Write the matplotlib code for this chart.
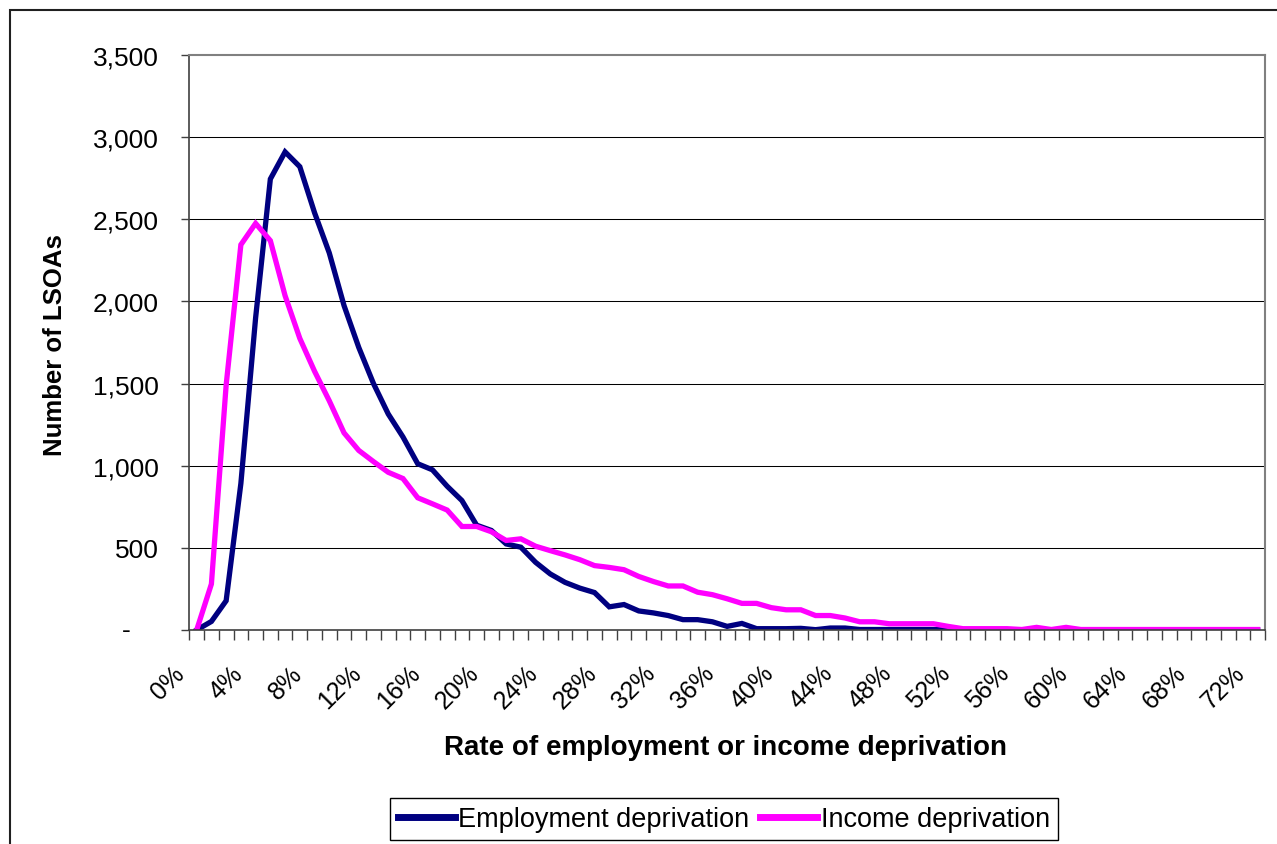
import numpy as np
import matplotlib
matplotlib.use("Agg")
from matplotlib import pyplot as plt, rcParams
from matplotlib.patches import Rectangle
from matplotlib.transforms import ScaledTranslation

rcParams["font.family"] = ["Liberation Sans", "DejaVu Sans"]

# Rate category (%), one point per 1% band
rate_pct = list(range(0, 73))

# Number of LSOAs in each band
employment = [
    0, 52, 178, 892, 1900, 2745, 2910, 2820, 2540, 2295,
    1975, 1720, 1500, 1315, 1175, 1012, 975, 875, 788, 638,
    606, 524, 504, 412, 341, 290, 255, 228, 141, 155,
    116, 104, 88, 63, 63, 50, 22, 40, 8, 8,
    8, 10, 2, 12, 12, 3, 3, 3, 3, 3,
    3, 0, 0, 0, 0, 0, 0, 0, 0, 0,
    0, 0, 0, 0, 0, 0, 0, 0, 0, 0,
    0, 0, 0,
]
income = [
    0, 280, 1490, 2345, 2475, 2370, 2035, 1775, 1575, 1395,
    1200, 1093, 1025, 960, 922, 805, 768, 730, 630, 630,
    598, 545, 555, 510, 483, 457, 428, 392, 381, 367,
    326, 295, 268, 268, 230, 215, 190, 162, 162, 136,
    123, 123, 88, 88, 73, 50, 50, 38, 38, 38,
    38, 22, 8, 8, 8, 8, 3, 16, 3, 16,
    3, 3, 3, 3, 3, 3, 3, 3, 3, 3,
    3, 3, 3,
]
y_ticks = [0, 500, 1000, 1500, 2000, 2500, 3000, 3500]
y_ticklabels = ["", "500", "1,000", "1,500", "2,000", "2,500", "3,000", "3,500"]

W, H = 1277, 845
fig = plt.figure(figsize=(W / 100, H / 100), dpi=100)
ax = fig.add_axes([189.3 / W, 1 - 631 / H, (1265 - 189.3) / W, (631 - 56) / H])

x = np.arange(len(rate_pct))
ax.plot(x, employment, c="#000080", lw=3.8, solid_joinstyle="miter",
        label="Employment deprivation")
ax.plot(x, income, c="#FF00FF", lw=3.8, solid_joinstyle="miter",
        label="Income deprivation")

ax.set_xlim(-0.5, len(rate_pct) - 0.5)
ax.set_ylim(0, 3500)

# gridlines
for v in y_ticks[1:-1]:
    ax.axhline(v, c="black", lw=0.75, zorder=0)

for s in ["top", "right"]:
    ax.spines[s].set_color("#808080")
    ax.spines[s].set_linewidth(1.5)
ax.spines["left"].set_color("#404040")
ax.spines["bottom"].set_color("#404040")
ax.spines["left"].set_linewidth(1.2)
ax.spines["bottom"].set_linewidth(1.2)

ax.set_yticks(y_ticks, y_ticklabels, fontsize=19)
ax.tick_params(axis="y", length=6, width=1, color="#404040", pad=16)
ax.text(-0.0542, 0, "-", transform=ax.get_yaxis_transform(), ha="right",
        va="center", fontsize=19)

# category boundaries as minor ticks, labels every 4%
ax.set_xticks(np.arange(-0.5, len(rate_pct)), minor=True)
lab_pos = [k for k in rate_pct if k % 4 == 0]
ax.set_xticks(lab_pos, [f"{k}%" for k in lab_pos], rotation=45,
              ha="right", va="top", fontsize=18)
ax.tick_params(axis="x", which="minor", length=7, width=1, color="#404040")
ax.tick_params(axis="x", which="major", length=0, pad=22)
for lab in ax.get_xticklabels():
    lab.set_transform(lab.get_transform()
                      + ScaledTranslation(-0.08, 0, fig.dpi_scale_trans))

fig.text(725.5 / W, 1 - 748 / H, "Rate of employment or income deprivation",
         ha="center", va="center", fontsize=20, fontweight="bold")
fig.text(55 / W, 1 - 345 / H, "Number of LSOAs", rotation=90,
         ha="center", va="center", fontsize=18.5, fontweight="bold")

leg = fig.legend(loc="center", bbox_to_anchor=(724 / W, 1 - 820 / H), ncol=2,
                 fontsize=19.5, frameon=True, fancybox=False, framealpha=1,
                 edgecolor="black", handlelength=2.1, handletextpad=0.12,
                 columnspacing=0.4, borderpad=0.3)
leg.get_frame().set_linewidth(1.0)
for line in leg.get_lines():
    line.set_linewidth(5)

# chart area border (runs off the right and bottom edges)
fig.add_artist(Rectangle((9.5 / W, -0.1), 1.2, 1.1 - 11 / H,
                         transform=fig.transFigure, fill=False,
                         ec="#202020", lw=1.5))

fig.savefig("out.png", dpi=100)
